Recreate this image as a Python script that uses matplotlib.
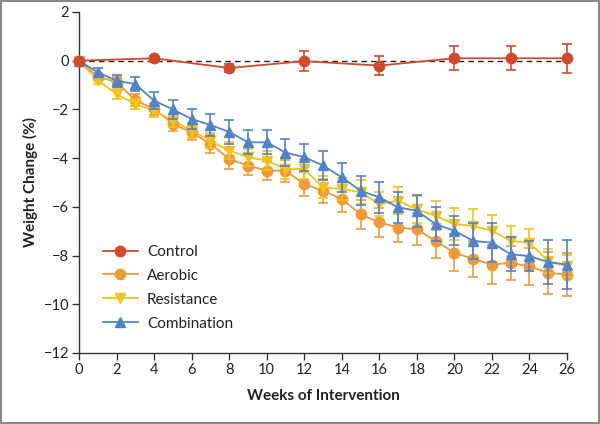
import matplotlib
matplotlib.use("Agg")
import matplotlib.pyplot as plt
from matplotlib.patches import Rectangle

plt.rcParams['font.family'] = ['Lato', 'DejaVu Sans']

weeks_control = [0, 4, 8, 12, 16, 20, 23, 26]
control = [0.0, 0.1, -0.3, -0.02, -0.2, 0.1, 0.1, 0.1]
control_err = [0.0, 0.1, 0.15, 0.4, 0.4, 0.5, 0.5, 0.6]

weeks = list(range(27))
aerobic = [0.0, -0.65, -0.88, -1.62, -1.98, -2.6, -2.94, -3.42, -4.03, -4.31, -4.51, -4.51,
           -5.07, -5.34, -5.68, -6.3, -6.64, -6.85, -6.92, -7.4, -7.88, -8.14, -8.37, -8.3,
           -8.44, -8.71, -8.78]
aerobic_err = [0.0, 0.15, 0.2, 0.25, 0.25, 0.3, 0.3, 0.35, 0.4, 0.4, 0.4, 0.45, 0.5, 0.5,
               0.55, 0.6, 0.6, 0.6, 0.65, 0.7, 0.75, 0.75, 0.8, 0.7, 0.75, 0.85, 0.9]
resistance = [0.0, -0.8, -1.37, -1.78, -2.05, -2.46, -2.87, -3.28, -3.69, -3.96, -4.1, -4.45,
              -4.45, -5.2, -5.27, -5.4, -5.89, -5.75, -6.1, -6.37, -6.71, -6.78, -6.98, -7.4,
              -7.47, -8.23, -8.44]
resistance_err = [0.0, 0.15, 0.2, 0.2, 0.25, 0.25, 0.3, 0.3, 0.35, 0.35, 0.4, 0.4, 0.4, 0.45,
                  0.45, 0.5, 0.5, 0.55, 0.55, 0.6, 0.65, 0.7, 0.65, 0.6, 0.55, 0.5, 0.45]
combination = [0.0, -0.48, -0.82, -0.96, -1.64, -2.0, -2.39, -2.64, -2.92, -3.35, -3.35, -3.77,
               -3.96, -4.3, -4.79, -5.34, -5.61, -6.02, -6.16, -6.71, -6.98, -7.4, -7.47, -7.95,
               -8.02, -8.27, -8.37]
combination_err = [0.0, 0.2, 0.25, 0.3, 0.35, 0.4, 0.4, 0.45, 0.5, 0.5, 0.5, 0.55, 0.55, 0.6,
                   0.6, 0.6, 0.65, 0.65, 0.65, 0.7, 0.6, 0.75, 0.8, 0.7, 0.6, 0.9, 1.0]

labels = ['Control', 'Aerobic', 'Resistance', 'Combination']
colors = {'Control': '#D04A2E', 'Aerobic': '#EB9B3A', 'Resistance': '#F2C21B',
          'Combination': '#5283C8'}

fig = plt.figure(figsize=(6.0, 4.24), dpi=100)
ax = fig.add_axes([0.1317, 0.1675, 0.8133, 0.8042])

ax.plot([0, 26], [0, 0], color='#222222', lw=1.0, ls=(0, (4, 3)), zorder=1)

series = [
    ('Aerobic', weeks, aerobic, aerobic_err, 'o'),
    ('Resistance', weeks, resistance, resistance_err, 'v'),
    ('Combination', weeks, combination, combination_err, '^'),
    ('Control', weeks_control, control, control_err, 'o'),
]
handles = {}
for i, (name, x, y, e, m) in enumerate(series):
    c = colors[name]
    eb = ax.errorbar(x, y, yerr=e, color=c, marker=m, markersize=7.5,
                     lw=1.3, elinewidth=1.2, capsize=3.8, capthick=1.2,
                     markeredgecolor=c, zorder=3 + i, clip_on=False)
    for art in eb.lines[1] + tuple(eb.lines[2]):
        art.set_clip_on(False)
    handles[name] = eb.lines[0]

ax.set_xlim(0, 26)
ax.set_ylim(-12, 2)
ax.set_xticks(range(0, 27, 2))
ax.set_yticks(range(-12, 3, 2))
ax.set_yticklabels(['\u2212' + str(abs(v)) if v < 0 else str(v) for v in range(-12, 3, 2)])
for s in ['top', 'right']:
    ax.spines[s].set_visible(False)
for s in ['left', 'bottom']:
    ax.spines[s].set_color('#333333')
    ax.spines[s].set_linewidth(1.0)
ax.tick_params(axis='both', direction='out', length=5, width=1.0, color='#333333',
               labelsize=10.5, labelcolor='#222222', pad=2)

ax.set_xlabel('Weeks of Intervention', fontsize=11, fontweight='bold', color='#222222', labelpad=9)
ax.set_ylabel('Weight Change (%)', fontsize=11, fontweight='bold', color='#222222', labelpad=4)

leg = ax.legend([handles[n] for n in labels], labels, loc='lower left',
                bbox_to_anchor=(0.02, 0.025), frameon=False, fontsize=11,
                handlelength=2.3, handletextpad=0.6, labelspacing=0.65,
                labelcolor='#222222')

fig.patches.append(Rectangle((0.002, 0.003), 0.996, 0.994, transform=fig.transFigure,
                             fill=False, edgecolor='#888888', lw=1.5))

fig.savefig('out.png', dpi=100)
